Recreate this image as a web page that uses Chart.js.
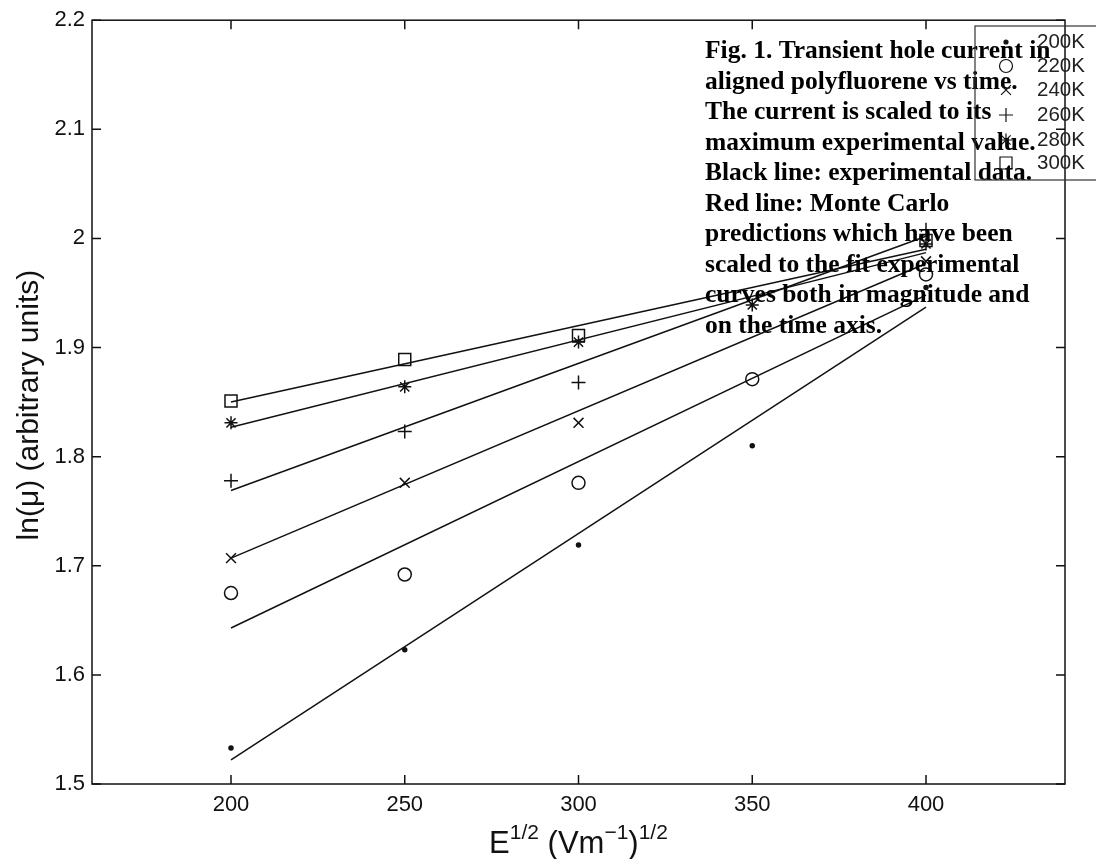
<!DOCTYPE html>
<html><head><meta charset="utf-8">
<script src="https://cdn.jsdelivr.net/npm/chart.js@4.4.1/dist/chart.umd.min.js"></script>
<style>html,body{margin:0;padding:0;background:#fff;}#wrap{position:relative;width:1096px;height:859px;}</style>
</head><body><div id="wrap"><canvas id="c" width="1096" height="859"></canvas></div>
<script>
// ---- data ----
const xValues = [200, 250, 300, 350, 400];
const seriesNames = ['200K', '220K', '240K', '260K', '280K', '300K'];
const v200K = [1.533, 1.623, 1.719, 1.810, 1.955];
const v220K = [1.675, 1.692, 1.776, 1.871, 1.967];
const v240K = [1.707, 1.776, 1.831, null, 1.979];
const v260K = [1.778, 1.823, 1.868, null, 2.008];
const v280K = [1.831, 1.864, 1.905, 1.939, 1.995];
const v300K = [1.851, 1.889, 1.911, null, 1.998];
const fitX = [200, 400];
const fit200K = [1.522, 1.937];
const fit220K = [1.643, 1.948];
const fit240K = [1.707, 1.977];
const fit260K = [1.769, 2.002];
const fit280K = [1.827, 1.987];
const fit300K = [1.850, 1.990];
const xTicks = [200, 250, 300, 350, 400];
const yTicks = [1.5, 1.6, 1.7, 1.8, 1.9, 2.0, 2.1, 2.2];
const captionLines = [
  'Fig. 1. Transient hole current in',
  'aligned polyfluorene vs time.',
  'The current is scaled to its',
  'maximum experimental value.',
  'Black line: experimental data.',
  'Red line: Monte Carlo',
  'predictions which have been',
  'scaled to the fit experimental',
  'curves both in magnitude and',
  'on the time axis.'
];

// ---- styles ----
const INK = '#111';
const markerStyles = [
  {pointStyle: 'circle', radius: 2, fill: INK},
  {pointStyle: 'circle', radius: 6.5, fill: 'rgba(0,0,0,0)'},
  {pointStyle: 'crossRot', radius: 7, fill: 'rgba(0,0,0,0)'},
  {pointStyle: 'cross', radius: 7, fill: 'rgba(0,0,0,0)'},
  {pointStyle: 'star', radius: 6.5, fill: 'rgba(0,0,0,0)'},
  {pointStyle: 'rect', radius: 8.5, fill: 'rgba(0,0,0,0)'}
];
const seriesValues = [v200K, v220K, v240K, v260K, v280K, v300K];
const fitValues = [fit200K, fit220K, fit240K, fit260K, fit280K, fit300K];

const datasets = [];
fitValues.forEach((f, i) => {
  datasets.push({
    label: 'fit ' + seriesNames[i],
    data: fitX.map((x, k) => ({x: x, y: f[k]})),
    showLine: true, pointRadius: 0, borderColor: INK, borderWidth: 1.5, fill: false
  });
});
seriesValues.forEach((vals, i) => {
  const m = markerStyles[i];
  datasets.push({
    label: seriesNames[i],
    data: xValues.map((x, k) => vals[k] == null ? null : ({x: x, y: vals[k]})).filter(p => p),
    showLine: false,
    pointStyle: m.pointStyle, pointRadius: m.radius,
    pointBorderColor: INK, pointBackgroundColor: m.fill, pointBorderWidth: 1.5
  });
});

const SANS = '"Liberation Sans", Arial, Helvetica, sans-serif';
const SERIF = '"Liberation Serif", "Times New Roman", serif';

const decor = {
  id: 'decor',
  afterDraw(chart) {
    const ctx = chart.ctx, a = chart.chartArea;
    const xs = chart.scales.x, ys = chart.scales.y;
    ctx.save();
    // frame
    ctx.strokeStyle = INK; ctx.lineWidth = 1.5;
    ctx.strokeRect(a.left, a.top, a.right - a.left, a.bottom - a.top);
    // inward ticks
    ctx.beginPath();
    xTicks.forEach(v => {
      const px = xs.getPixelForValue(v);
      ctx.moveTo(px, a.bottom); ctx.lineTo(px, a.bottom - 9);
      ctx.moveTo(px, a.top); ctx.lineTo(px, a.top + 9);
    });
    yTicks.forEach(v => {
      const py = ys.getPixelForValue(v);
      ctx.moveTo(a.left, py); ctx.lineTo(a.left + 9, py);
      ctx.moveTo(a.right, py); ctx.lineTo(a.right - 9, py);
    });
    ctx.stroke();

    // y title
    ctx.fillStyle = INK;
    ctx.save();
    ctx.translate(30, (a.top + a.bottom) / 2 + 3);
    ctx.rotate(-Math.PI / 2);
    ctx.font = '30px ' + SANS;
    ctx.textAlign = 'center'; ctx.textBaseline = 'middle';
    ctx.fillText('ln(\u03bc) (arbitrary units)', 0, 0);
    ctx.restore();

    // x title with superscripts
    const parts = [
      {t: 'E', sup: false}, {t: '1/2', sup: true}, {t: ' (Vm', sup: false},
      {t: '\u22121', sup: true}, {t: ')', sup: false}, {t: '1/2', sup: true}
    ];
    const mainF = '31px ' + SANS, supF = '21px ' + SANS;
    let total = 0;
    parts.forEach(p => { ctx.font = p.sup ? supF : mainF; p.w = ctx.measureText(p.t).width; total += p.w; });
    let cx = (a.left + a.right) / 2 - total / 2;
    const base = 853;
    ctx.textAlign = 'left'; ctx.textBaseline = 'alphabetic';
    parts.forEach(p => {
      ctx.font = p.sup ? supF : mainF;
      ctx.fillText(p.t, cx, p.sup ? base - 14 : base);
      cx += p.w;
    });

    // caption
    ctx.font = 'bold 25.5px ' + SERIF;
    ctx.fillStyle = '#000';
    captionLines.forEach((line, i) => ctx.fillText(line, 705, 58 + i * 30.5));

    // legend box
    ctx.strokeStyle = '#333'; ctx.lineWidth = 1.2;
    ctx.strokeRect(975, 26, 130, 154);
    const ly = [42, 66, 90, 115, 140, 163];
    seriesNames.forEach((name, i) => {
      const m = markerStyles[i];
      ctx.strokeStyle = INK; ctx.fillStyle = m.fill;
      Chart.helpers.drawPoint(ctx, {pointStyle: m.pointStyle, radius: m.radius, rotation: 0, borderWidth: 1.5}, 1006, ly[i]);
      ctx.fillStyle = '#222';
      ctx.font = '20.5px ' + SANS;
      ctx.textBaseline = 'middle';
      ctx.fillText(name, 1037, ly[i]);
    });
    ctx.restore();
  }
};

new Chart(document.getElementById('c'), {
  type: 'scatter',
  data: {datasets: datasets},
  options: {
    responsive: false, animation: false, devicePixelRatio: 1,
    layout: {padding: {left: 0, top: 18, right: 31, bottom: 0}},
    plugins: {legend: {display: false}, tooltip: {enabled: false}},
    scales: {
      x: {
        type: 'linear', min: 160, max: 440,
        afterBuildTicks: s => { s.ticks = xTicks.map(v => ({value: v})); },
        afterFit: s => { s.height = 75; },
        grid: {display: false, drawTicks: false}, border: {display: false},
        ticks: {font: {family: SANS, size: 22}, color: INK, padding: 8, maxRotation: 0}
      },
      y: {
        type: 'linear', min: 1.5, max: 2.2,
        afterBuildTicks: s => { s.ticks = yTicks.map(v => ({value: v})); },
        afterFit: s => { s.width = 92; },
        grid: {display: false, drawTicks: false}, border: {display: false},
        ticks: {font: {family: SANS, size: 22}, color: INK, padding: 7,
          callback: v => String(+v.toFixed(1))}
      }
    }
  },
  plugins: [decor]
});
</script></body></html>
